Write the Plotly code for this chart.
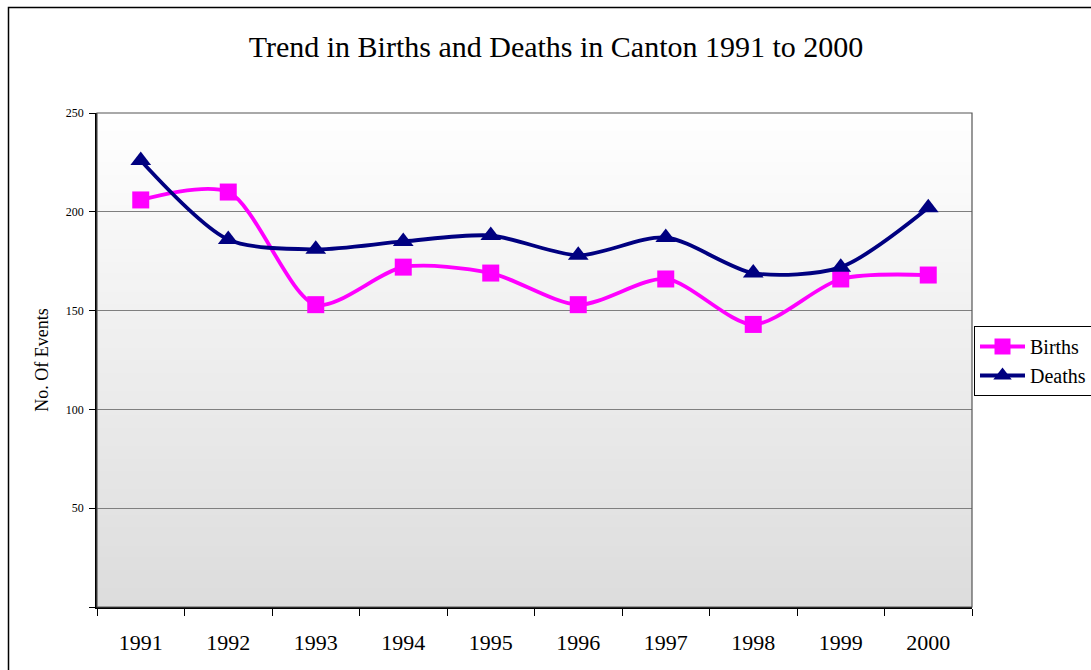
import plotly.graph_objects as go

years = ["1991", "1992", "1993", "1994", "1995", "1996", "1997", "1998", "1999", "2000"]
births = [206, 210, 153, 172, 169, 153, 166, 143, 166, 168]
deaths = [226, 186, 181, 185, 188, 178, 187, 169, 172, 202]
y_ticks = [0, 50, 100, 150, 200, 250]
y_ticktext = ["", "50", "100", "150", "200", "250"]

W, H = 1091, 670
L, R, T, B = 97, 972, 113, 607

fig = go.Figure()
fig.add_trace(go.Scatter(
    x=years, y=births, name="Births", mode="lines+markers",
    line=dict(color="#FF00FF", width=3.8, shape="spline", smoothing=0.8),
    marker=dict(symbol="square", size=17, color="#FF00FF"),
))
fig.add_trace(go.Scatter(
    x=years, y=deaths, name="Deaths", mode="lines+markers",
    line=dict(color="#000080", width=3.8, shape="spline", smoothing=0.8),
    marker=dict(symbol="triangle-up", size=18, color="#000080"),
))

shapes = []
n = 80
for i in range(n):
    f0 = i / n
    f1 = (i + 1) / n
    t = 1 - (f0 + f1) / 2  # 0 at top, 1 at bottom
    v = int(round(255 - t * 35))
    shapes.append(dict(type="rect", xref="paper", yref="paper", x0=0, x1=1,
                       y0=f0, y1=f1 + 0.002, fillcolor=f"rgb({v},{v},{v})",
                       line=dict(width=0), layer="below"))

pw = R - L
ph = B - T
def px2x(p):
    return (p - L) / pw
def py2y(p):
    return (B - p) / ph

# outer chart border (right and bottom edges fall outside the window)
shapes.append(dict(type="rect", xref="paper", yref="paper",
                   x0=px2x(8.5), x1=px2x(W + 20), y0=py2y(H + 20), y1=py2y(7.5),
                   line=dict(color="black", width=1.5), fillcolor="rgba(0,0,0,0)", layer="above"))
# plot area border
shapes.append(dict(type="rect", xref="paper", yref="paper", x0=0, x1=1, y0=0, y1=1,
                   line=dict(color="#555555", width=1.2), fillcolor="rgba(0,0,0,0)", layer="above"))

fig.update_layout(
    width=W, height=H,
    margin=dict(l=L, r=W - R, t=T, b=H - B, autoexpand=False),
    paper_bgcolor="white",
    plot_bgcolor="rgba(0,0,0,0)",
    font=dict(family="Liberation Serif, Times New Roman, serif", color="black"),
    title=dict(text="Trend in Births and Deaths in Canton 1991 to 2000",
               font=dict(size=30, family="Liberation Serif"),
               x=556 / W, xanchor="center", y=1 - 46 / H, yanchor="middle",
               xref="container", yref="container"),
    shapes=shapes,
    showlegend=True,
    legend=dict(x=px2x(974), xanchor="left", y=py2y(326), yanchor="top",
                bordercolor="black", borderwidth=1, bgcolor="white",
                font=dict(size=20, family="Liberation Serif", color="black"),
                itemwidth=45, tracegroupgap=0),
)
fig.update_xaxes(
    type="category", tickson="boundaries", ticks="outside", ticklen=7, tickcolor="black",
    showline=True, linecolor="black", linewidth=1.5, showgrid=False,
    tickfont=dict(size=22, family="Liberation Serif", color="black"), ticklabelstandoff=15,
    range=[-0.5, 9.5],
)
fig.update_yaxes(
    range=[0, 250], tickvals=y_ticks, ticktext=y_ticktext, ticks="outside", ticklen=6,
    tickcolor="black", showline=True, linecolor="black", linewidth=1.5,
    showgrid=True, gridcolor="#7f7f7f", gridwidth=1, zeroline=False,
    tickfont=dict(size=12, family="Liberation Serif", color="black"), ticklabelstandoff=3,
    title=dict(text="No. Of Events", font=dict(size=18, family="Liberation Serif", color="black"), standoff=13),
)

fig.write_html(
    "out.html",
    config={"displayModeBar": False},
    post_script="document.body.style.margin='0';document.body.style.overflow='hidden';",
)
